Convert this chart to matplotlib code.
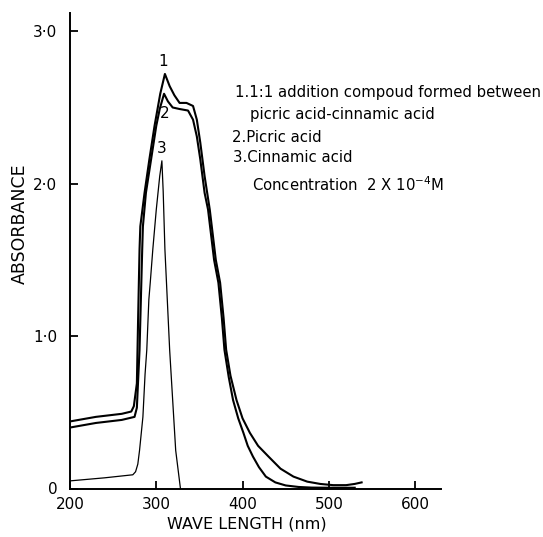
import matplotlib
matplotlib.use("Agg")
import matplotlib.pyplot as plt

# ---- data ----
wl_compound = [200, 230, 260, 271, 274, 277.5, 279, 280.6, 281.5, 286.4, 292, 298, 304.6, 310,
               315.5, 321, 327, 335, 342.6, 347, 351, 356, 362, 369, 374, 378, 381, 386, 393, 400,
               408.5, 418, 430, 444, 459, 475, 490, 505, 520, 530, 538]
abs_compound = [0.44, 0.47, 0.49, 0.505, 0.54, 0.69, 1.13, 1.57, 1.72, 1.94, 2.16, 2.38, 2.59, 2.72,
                2.64, 2.58, 2.53, 2.53, 2.51, 2.42, 2.27, 2.05, 1.83, 1.50, 1.35, 1.12, 0.91, 0.74,
                0.58, 0.46, 0.365, 0.28, 0.21, 0.13, 0.078, 0.045, 0.03, 0.022, 0.022, 0.03, 0.04]

wl_picric = [200, 230, 260, 274.8, 277.5, 280.6, 283.7, 284.5, 288, 294, 300, 304, 309, 313.5,
             319, 327, 336.8, 342.6, 347, 351, 356, 360, 367, 372, 376, 379, 384, 389, 395, 401,
             406, 412, 419, 427, 438, 450, 465, 480, 500, 530]
abs_picric = [0.40, 0.43, 0.45, 0.47, 0.53, 0.91, 1.57, 1.72, 1.94, 2.16, 2.38, 2.49, 2.59, 2.54,
              2.50, 2.49, 2.48, 2.42, 2.31, 2.16, 1.94, 1.83, 1.50, 1.35, 1.12, 0.91, 0.73, 0.58,
              0.46, 0.365, 0.28, 0.21, 0.14, 0.078, 0.04, 0.02, 0.01, 0.006, 0.005, 0.005]

wl_cinnamic = [200, 240, 272.8, 276, 278.6, 280.6, 284.5, 287, 289, 291.4, 293, 296, 300, 304,
               306.5, 308, 310, 315.5, 322.5, 328]
abs_cinnamic = [0.05, 0.07, 0.09, 0.11, 0.16, 0.25, 0.47, 0.75, 0.91, 1.24, 1.35, 1.57, 1.83, 2.05,
                2.15, 1.95, 1.57, 0.91, 0.25, 0.0]

x_ticks = [200, 300, 400, 500, 600]
x_tick_labels = ["200", "300", "400", "500", "600"]
y_ticks = [0, 1, 2, 3]
y_tick_labels = ["0", "1·0", "2·0", "3·0"]

curve_labels = ["1", "2", "3"]
curve_label_pos = [(308.5, 2.80), (309.5, 2.46), (306.0, 2.23)]

legend_lines = [
    "1.1:1 addition compoud formed between",
    "picric acid-cinnamic acid",
    "2.Picric acid",
    "3.Cinnamic acid",
    "Concentration  2 X 10$^{-4}$M",
]

# ---- figure ----
W, H = 543, 537
fig = plt.figure(figsize=(W / 100, H / 100), dpi=100)
ax = fig.add_axes([70 / W, 48.5 / H, (441 - 70) / W, (488.5 - 13) / H])

ax.plot(wl_compound, abs_compound, color="black", lw=1.5)
ax.plot(wl_picric, abs_picric, color="black", lw=1.5)
ax.plot(wl_cinnamic, abs_cinnamic, color="black", lw=0.9)

ax.set_xlim(200, 630)
ax.set_ylim(0, 3.12)

for s in ["top", "right"]:
    ax.spines[s].set_visible(False)
for s in ["left", "bottom"]:
    ax.spines[s].set_linewidth(1.4)

ax.set_xticks(x_ticks)
ax.set_xticklabels(x_tick_labels)
ax.set_yticks(y_ticks)
ax.set_yticklabels(y_tick_labels)
ax.tick_params(axis="both", direction="in", length=6, width=1.3, labelsize=11)
ax.tick_params(axis="x", pad=6)
ax.tick_params(axis="y", pad=9)

ax.set_xlabel("WAVE LENGTH (nm)", fontsize=11.5)
ax.set_ylabel("ABSORBANCE", fontsize=12.5)
ax.xaxis.set_label_coords(0.477, -0.058)
ax.yaxis.set_label_coords(-0.11, 0.556)

for lab, (x, y) in zip(curve_labels, curve_label_pos):
    ax.text(x, y, lab, fontsize=11, ha="center", va="center")

legend_px = [(235, 93), (250, 114), (232, 137), (233, 157), (252, 185)]
for txt, (px, py) in zip(legend_lines, legend_px):
    fig.text(px / W, 1 - py / H, txt, fontsize=10.7, ha="left", va="center")

fig.savefig("out.png", dpi=100)
